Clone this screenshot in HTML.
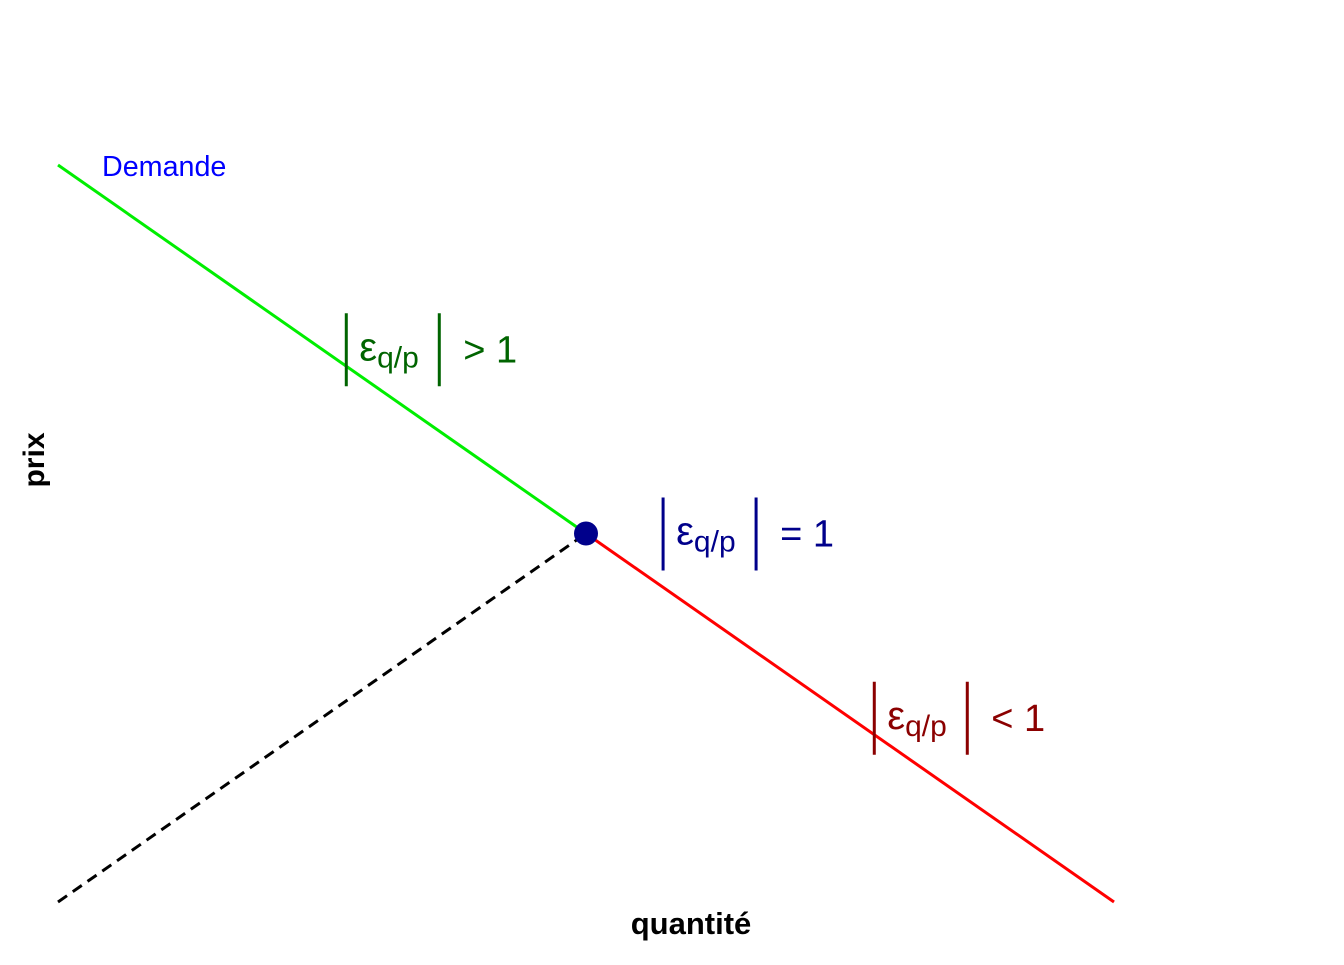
<!DOCTYPE html>
<html><head><meta charset="utf-8"><style>
body{margin:0;background:#fff;}
svg text{font-family:"Liberation Sans",sans-serif;}
</style></head><body>
<svg id="chart" width="1344" height="960" xmlns="http://www.w3.org/2000/svg">
<text x="691" y="934" font-size="31" font-weight="bold" text-anchor="middle">quantité</text>
<text transform="translate(44,460) rotate(-90)" font-size="30" font-weight="bold" text-anchor="middle">prix</text>
<text x="102" y="176" font-size="28.7" fill="#0000ff">Demande</text>
<g id="marks"></g>
</svg>
<script>
const qDomain = [0, 10];
const pDomain = [0, 10];
const elasticSeg = [[0, 10], [5, 5]];
const inelasticSeg = [[5, 5], [10, 0]];
const guideSeg = [[0, 0], [5, 5]];
const unitPoint = [5, 5];
const labelSigns = [">", "=", "<"];
const labelAnchors = [[2.73, 7.5], [5.73, 5.0], [7.73, 2.5]];
const labelColors = ["#006400", "#00008b", "#8b0000"];

const sx = q => 58 + (q - qDomain[0]) / (qDomain[1] - qDomain[0]) * 1056;
const sy = p => 902 - (p - pDomain[0]) / (pDomain[1] - pDomain[0]) * 737;
const g = document.getElementById('marks');
const NS = 'http://www.w3.org/2000/svg';
function line(seg, color, name, dash) {
  const l = document.createElementNS(NS, 'line');
  l.setAttribute('x1', sx(seg[0][0])); l.setAttribute('y1', sy(seg[0][1]));
  l.setAttribute('x2', sx(seg[1][0])); l.setAttribute('y2', sy(seg[1][1]));
  l.setAttribute('stroke', color); l.setAttribute('stroke-width', 3);
  if (dash) l.setAttribute('stroke-dasharray', '11 7');
  
  
  g.appendChild(l);
}
line(guideSeg, '#000', 'unit-elasticity-guide', true);
line(elasticSeg, '#00ee00', 'elastic-demand-segment');
line(inelasticSeg, '#ff0000', 'inelastic-demand-segment');
const c = document.createElementNS(NS, 'circle');
c.setAttribute('cx', sx(unitPoint[0])); c.setAttribute('cy', sy(unitPoint[1]));
c.setAttribute('r', 12); c.setAttribute('fill', '#00008b');


g.appendChild(c);
labelAnchors.forEach((a, i) => {
  const x = sx(a[0]), y = sy(a[1]), col = labelColors[i];
  const grp = document.createElementNS(NS, 'g');
  
  
  grp.setAttribute('fill', col);
  [0, 93].forEach(dx => {
    const r = document.createElementNS(NS, 'rect');
    r.setAttribute('x', x + dx - 1.5); r.setAttribute('y', y - 36);
    r.setAttribute('width', 3); r.setAttribute('height', 73);
    grp.appendChild(r);
  });
  const t = document.createElementNS(NS, 'text');
  t.setAttribute('x', x + 13); t.setAttribute('y', y + 11);
  t.setAttribute('font-size', '40');
  t.innerHTML = 'ε<tspan font-size="30" dy="7">q/p</tspan>';
  grp.appendChild(t);
  const t2 = document.createElementNS(NS, 'text');
  t2.setAttribute('x', x + 117); t2.setAttribute('y', y + 13);
  t2.setAttribute('font-size', '38');
  t2.textContent = labelSigns[i] + ' 1';
  grp.appendChild(t2);
  g.appendChild(grp);
});
</script>
</body></html>
